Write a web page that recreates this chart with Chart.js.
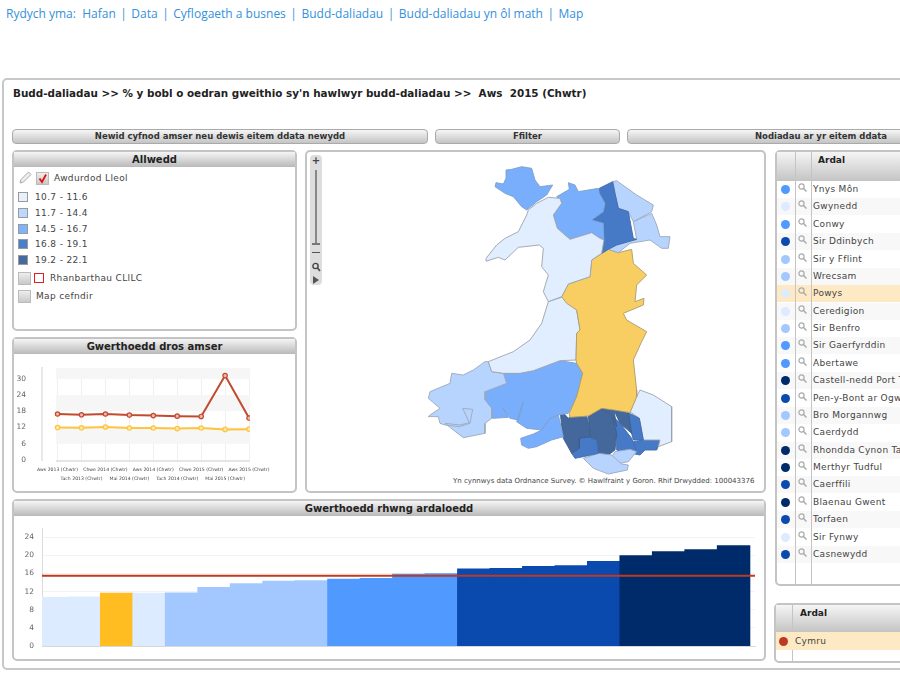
<!DOCTYPE html>
<html lang="cy">
<head>
<meta charset="utf-8">
<title>Map</title>
<script src="https://cdn.jsdelivr.net/npm/chart.js@4/dist/chart.umd.js"></script>
<style>
  html, body { margin: 0; padding: 0; background: #fff; }
  body { position: relative; width: 900px; height: 675px; overflow: hidden; font-family: "DejaVu Sans", sans-serif; font-size: 9px; color: #444; }
  .abs, canvas { position: absolute; }
  #crumbs { left: 6px; top: 5px; font: 12px "Open Sans", sans-serif; color: #3391dc; white-space: pre; }
  #crumbs span { margin: 0 4.5px; }
  #outer { left: 2px; top: 78px; width: 1000px; height: 588px; border: 2px solid #c8c8c8; border-radius: 5px; }
  #title { left: 13px; top: 87px; font-weight: bold; font-size: 10.4px; color: #222; white-space: pre; }
  .btn { height: 13px; line-height: 13px; top: 129px; text-align: center; font-weight: bold; font-size: 8.5px; color: #333; border: 1px solid #aaa; border-radius: 4px; background: linear-gradient(#f6f6f6, #c4c4c4); }
  .panel { border: 2px solid #c4c4c4; border-radius: 5px; background: #fff; box-sizing: border-box; }
  .head { left: 0; right: 0; top: 0; height: 15px; line-height: 15px; text-align: center; font-weight: bold; font-size: 10px; color: #222; background: linear-gradient(#f5f5f5, #b9b9b9); }
  .swatch { width: 8px; height: 8px; border: 1px solid #9a9a9a; }
  .tick { width: 11px; height: 11px; border: 1px solid #bbb; background: linear-gradient(#eee, #c8c8c8); }
  .row { left: 777px; width: 125px; height: 17px; white-space: nowrap; overflow: visible; }
  .dot { width: 9px; height: 9px; border-radius: 50%; }
  .name { left: 813px; white-space: nowrap; letter-spacing: 0.3px; }
  .wide { letter-spacing: 0.35px; white-space: nowrap; }
  .vline { width: 1px; background: #c4c4c4; }
</style>
</head>
<body>
<div class="abs" id="crumbs">Rydych yma:  Hafan<span>|</span>Data<span>|</span>Cyflogaeth a busnes<span>|</span>Budd-daliadau<span>|</span>Budd-daliadau yn ôl math<span>|</span>Map</div>
<div class="abs" id="outer"></div>
<div class="abs" id="title">Budd-daliadau &gt;&gt; % y bobl o oedran gweithio sy'n hawlwyr budd-daliadau &gt;&gt;  Aws  2015 (Chwtr)</div>

<div class="abs btn" style="left:12px;width:414px">Newid cyfnod amser neu dewis eitem ddata newydd</div>
<div class="abs btn" style="left:435px;width:183px">Ffilter</div>
<div class="abs btn" style="left:627px;width:386px">Nodiadau ar yr eitem ddata</div>

<div class="abs panel" style="left:12px;top:150px;width:285px;height:181px"><div class="abs head">Allwedd</div></div>
<div class="abs panel" style="left:12px;top:337px;width:285px;height:156px"><div class="abs head">Gwerthoedd dros amser</div></div>
<div class="abs panel" style="left:305px;top:150px;width:461px;height:343px"></div>
<div class="abs panel" style="left:12px;top:499px;width:754px;height:162px"><div class="abs head">Gwerthoedd rhwng ardaloedd</div></div>
<div class="abs panel" style="left:775px;top:150px;width:200px;height:436px"><div class="abs head" style="height:29px;background:linear-gradient(#f5f5f5,#c4c4c4)"></div></div>
<div class="abs panel" style="left:774px;top:603px;width:200px;height:60px"><div class="abs head" style="height:27px;background:linear-gradient(#f5f5f5,#c4c4c4)"></div></div>

<!-- map zoom control -->
<div class="abs" style="left:310px;top:155px;width:12px;height:130px;background:#ddd;border-radius:4px"></div>
<div class="abs" style="left:315px;top:170px;width:2px;height:74px;background:#888"></div>
<div class="abs" style="left:312px;top:243px;width:8px;height:2px;background:#777"></div>
<div class="abs" style="left:310px;top:155px;width:12px;text-align:center;font-weight:bold;font-size:10px;line-height:11px;color:#444">+</div>
<div class="abs" style="left:312px;top:252px;width:8px;height:1px;background:#555"></div>
<svg class="abs" style="left:311px;top:262px" width="10" height="22" viewBox="0 0 10 22"><circle cx="4.5" cy="4" r="2.6" fill="none" stroke="#444" stroke-width="1.4"/><path d="M6.5 6L9 9" stroke="#444" stroke-width="1.6"/><path d="M2 14L8 18L2 22Z" fill="#555"/></svg>

<div class="abs" style="left:453px;top:477px;font-size:7px;color:#444;white-space:nowrap">Yn cynnwys data Ordnance Survey. © Hawlfraint y Goron. Rhif Drwydded: 100043376</div>

<canvas id="timeChart" style="left:12px;top:352px" width="284" height="140"></canvas>
<canvas id="mapChart" style="left:420px;top:150px" width="270" height="340"></canvas>
<canvas id="areaChart" style="left:12px;top:516px" width="753" height="144"></canvas>

<div id="legendBox"></div>
<div id="tableBox"></div>

<script>
// legend classes
const legendLabels = ["10.7 - 11.6", "11.7 - 14.4", "14.5 - 16.7", "16.8 - 19.1", "19.2 - 22.1"];
const classMax = [11.6, 14.4, 16.7, 19.1, 22.1];
const legendColours = ["#e6f1fc", "#bcd8ff", "#80b4fa", "#4a7fc9", "#476a9e"];
const barColours = ["#dcebff", "#a3c8ff", "#4f99ff", "#0a4aae", "#002b6b"];
const mapColours = ["#e0eeff", "#b7d4ff", "#78aefc", "#4679c6", "#44689c"];
const mapEdges = ["#9ca3ad", "#9ca8ba", "#7f9fcc", "#3f6cae", "#3d5e8e"];
const powysBar = "#ffbd21";
const powysMap = "#f8ce62";
const powysEdge = "#a89c72";
const walesRed = "#bd3a20";

// local authorities, table order
const areaNames = ["Ynys Môn", "Gwynedd", "Conwy", "Sir Ddinbych", "Sir y Fflint", "Wrecsam", "Powys", "Ceredigion", "Sir Benfro", "Sir Gaerfyrddin", "Abertawe", "Castell-nedd Port Talbot", "Pen-y-Bont ar Ogwr", "Bro Morgannwg", "Caerdydd", "Rhondda Cynon Taf", "Merthyr Tudful", "Caerffili", "Blaenau Gwent", "Torfaen", "Sir Fynwy", "Casnewydd"];
const areaValues = [14.7, 10.7, 14.9, 17.5, 14.3, 14.4, 11.6, 11.6, 13.7, 15.8, 15.9, 21.2, 17.0, 11.7, 12.9, 19.9, 20.8, 17.1, 22.1, 17.7, 10.8, 18.6];

// over time
const timeLabels = ["Aws 2013 (Chwtr)", "Tach 2013 (Chwtr)", "Chwe 2014 (Chwtr)", "Mai 2014 (Chwtr)", "Aws 2014 (Chwtr)", "Tach 2014 (Chwtr)", "Chwe 2015 (Chwtr)", "Mai 2015 (Chwtr)", "Aws 2015 (Chwtr)"];
const cymruTime = [17.0, 16.7, 17.0, 16.6, 16.4, 16.2, 16.1, 31.2, 15.5];
const powysTime = [12.0, 11.9, 12.2, 11.8, 11.8, 11.6, 11.8, 11.3, 11.4];
const timeBands = [[6, 12], [18, 24], [30, 34]];

// Wales average on the bar chart
const cymruValue = 15.5;

// map outlines, map units
const shapeYnysMon = [[258,60],[275,58],[305,50],[335,55],[345,90],[360,110],[398,105],[380,135],[350,155],[320,180],[305,170],[280,140],[255,130],[225,110],[228,98],[250,102],[258,85]];
const shapeGwynedd = [[385,142],[420,145],[425,160],[400,195],[412,235],[450,268],[515,248],[540,265],[552,270],[545,310],[515,330],[510,380],[445,402],[425,440],[385,455],[370,425],[385,375],[365,350],[370,295],[358,285],[295,292],[255,330],[235,322],[200,333],[198,325],[230,285],[255,265],[295,245],[320,195],[325,180],[350,160]];
const shapeConwy = [[410,140],[448,118],[445,98],[465,105],[475,125],[535,115],[538,130],[555,160],[550,185],[515,210],[550,220],[552,270],[540,265],[515,248],[450,268],[412,235],[400,195],[425,160]];
const shapeDdinbych = [[538,115],[578,95],[585,130],[595,175],[625,185],[640,265],[650,268],[590,285],[565,298],[545,310],[552,270],[550,220],[515,210],[550,185],[555,160],[538,130]];
const shapeFflint = [[578,95],[590,92],[650,135],[700,165],[695,185],[640,215],[625,185],[595,175],[585,130]];
const shapeWrecsam = [[640,215],[695,190],[710,225],[720,260],[750,260],[745,295],[725,295],[690,270],[630,280],[595,308],[565,298],[590,285],[650,268]];
const shapePowys = [[565,298],[595,308],[635,298],[640,340],[680,375],[650,405],[645,455],[672,445],[670,465],[610,490],[620,510],[680,545],[665,575],[640,630],[650,720],[650,740],[630,788],[582,780],[545,775],[505,798],[450,802],[448,790],[470,740],[488,670],[470,640],[468,630],[470,550],[480,540],[470,480],[440,460],[425,440],[445,402],[510,380],[515,330]];
const shapeCeredigion = [[430,440],[445,455],[470,480],[480,540],[470,550],[468,630],[420,632],[340,662],[300,670],[250,670],[215,665],[205,635],[280,605],[330,570],[365,520],[385,455]];
const shapeBenfro = [[205,635],[215,665],[250,670],[260,700],[195,725],[195,750],[215,775],[215,805],[195,820],[195,850],[130,863],[100,840],[75,820],[120,825],[148,818],[128,775],[158,778],[150,820],[118,830],[75,825],[60,820],[55,800],[25,800],[30,795],[60,775],[25,745],[30,725],[90,700],[95,670],[130,675],[160,660],[195,635]];
const shapeGaerfyrddin = [[250,670],[300,670],[340,662],[420,632],[470,640],[488,670],[470,740],[445,790],[415,795],[390,805],[365,840],[320,835],[290,815],[310,755],[295,810],[270,805],[250,775],[265,802],[218,805],[215,775],[195,750],[195,725],[260,700]];
const shapeAbertawe = [[390,805],[415,795],[430,860],[395,870],[350,890],[325,895],[305,885],[302,865],[340,852],[365,840]];
const shapeCastellNedd = [[420,778],[445,805],[450,800],[500,798],[508,830],[510,860],[478,865],[478,895],[455,910],[430,865],[425,830]];
const shapePenyBont = [[478,865],[495,858],[530,870],[535,910],[490,920],[465,925],[455,910],[478,895]];
const shapeRhondda = [[505,798],[545,775],[575,795],[590,850],[585,900],[565,915],[535,910],[530,870],[495,858],[510,860],[508,830]];
const shapeMerthyr = [[545,775],[582,780],[590,830],[575,795]];
const shapeBlaenau = [[582,780],[625,788],[635,850],[600,820]];
const shapeCaerffili = [[575,795],[600,820],[635,865],[650,905],[630,915],[590,900],[590,850]];
const shapeTorfaen = [[625,788],[658,805],[670,870],[640,870],[632,840]];
const shapeCasnewydd = [[640,875],[670,870],[710,860],[720,875],[710,900],[675,900],[660,915],[635,910]];
const shapeCaerdydd = [[585,905],[630,898],[650,905],[625,935],[600,940],[575,920]];
const shapeBro = [[490,925],[535,910],[575,915],[605,942],[625,945],[622,960],[565,972],[520,955]];
const shapeFynwy = [[660,720],[700,735],[755,770],[755,875],[715,890],[720,870],[670,870],[658,805],[630,785],[650,740]];

const areaShapes = {
  "Ynys Môn": shapeYnysMon, "Gwynedd": shapeGwynedd, "Conwy": shapeConwy, "Sir Ddinbych": shapeDdinbych,
  "Sir y Fflint": shapeFflint, "Wrecsam": shapeWrecsam, "Powys": shapePowys, "Ceredigion": shapeCeredigion,
  "Sir Benfro": shapeBenfro, "Sir Gaerfyrddin": shapeGaerfyrddin, "Abertawe": shapeAbertawe,
  "Castell-nedd Port Talbot": shapeCastellNedd, "Pen-y-Bont ar Ogwr": shapePenyBont, "Bro Morgannwg": shapeBro,
  "Caerdydd": shapeCaerdydd, "Rhondda Cynon Taf": shapeRhondda, "Merthyr Tudful": shapeMerthyr,
  "Caerffili": shapeCaerffili, "Blaenau Gwent": shapeBlaenau, "Torfaen": shapeTorfaen, "Sir Fynwy": shapeFynwy,
  "Casnewydd": shapeCasnewydd
};

function classOf(v) {
  return classMax.findIndex((m) => v <= m);
}

const magnifier = '<svg width="9" height="9" viewBox="0 0 9 9"><circle cx="3.5" cy="3.5" r="2.6" fill="none" stroke="#aaa" stroke-width="1.2"/><path d="M5.5 5.5L8.5 8.5" stroke="#aaa" stroke-width="1.5"/></svg>';
const redTick = '<svg width="11" height="11" viewBox="0 0 11 11"><path d="M2.5 5.5L5 9L9 1.5" fill="none" stroke="#e01010" stroke-width="1.8"/></svg>';
const pencil = '<svg width="13" height="13" viewBox="0 0 13 13"><path d="M1 12L2 8.5L9.5 1L12 3.5L4.5 11Z" fill="#eee" stroke="#aaa"/></svg>';

// legend
let legendHtml = `<div class="abs" style="left:19px;top:171px">${pencil}</div>
  <div class="abs tick" style="left:36px;top:172px">${redTick}</div>
  <div class="abs wide" style="left:54px;top:173px">Awdurdod Lleol</div>`;
const legendRows = [197, 213, 229, 244, 260];
legendLabels.forEach((t, i) => {
  legendHtml += `<div class="abs swatch" style="left:18px;top:${legendRows[i] - 5}px;background:${legendColours[i]}"></div>
    <div class="abs wide" style="left:35px;top:${legendRows[i] - 5}px">${t}</div>`;
});
legendHtml += `<div class="abs tick" style="left:18px;top:272px"></div>
  <div class="abs" style="left:34px;top:273px;width:8px;height:8px;border:1px solid #e02020"></div>
  <div class="abs wide" style="left:50px;top:273px">Rhanbarthau CLlLC</div>
  <div class="abs tick" style="left:18px;top:290px"></div>
  <div class="abs wide" style="left:36px;top:291px">Map cefndir</div>`;
document.getElementById("legendBox").innerHTML = legendHtml;

// table
let tableHtml = "";
areaNames.forEach((name, i) => {
  const top = 181 + i * 17.38;
  const bg = name === "Powys" ? "#fdeac4" : (i % 2 ? "#f8f8f8" : "#fff");
  tableHtml += `<div class="abs row" style="top:${top}px;background:${bg}"></div>
    <div class="abs dot" style="left:781px;top:${top + 4}px;background:${barColours[classOf(areaValues[i])]}"></div>
    <div class="abs" style="left:798px;top:${top + 2}px">${magnifier}</div>
    <div class="abs name" style="top:${top + 3}px">${name}</div>`;
});
tableHtml += `<div class="abs vline" style="left:795px;top:152px;height:432px"></div>
  <div class="abs vline" style="left:811px;top:152px;height:432px"></div>
  <div class="abs" style="left:818px;top:155px;font-weight:bold;color:#222">Ardal</div>
  <div class="abs vline" style="left:792px;top:605px;height:56px"></div>
  <div class="abs" style="left:800px;top:608px;font-weight:bold;color:#222">Ardal</div>
  <div class="abs" style="left:776px;top:632px;width:125px;height:18px;background:#fdeac4"></div>
  <div class="abs dot" style="left:779px;top:637px;background:${walesRed}"></div>
  <div class="abs name" style="left:795px;top:636px">Cymru</div>`;
document.getElementById("tableBox").innerHTML = tableHtml;

// grey bands and base line behind the time chart
const bandPlugin = {
  id: "bands",
  beforeDatasetsDraw(chart) {
    const { ctx, chartArea, scales } = chart;
    const left = scales.x.getPixelForValue(-0.07);
    ctx.save();
    ctx.fillStyle = "#f6f6f6";
    timeBands.forEach((b) => {
      const top = scales.y.getPixelForValue(b[1]);
      ctx.fillRect(left, top, chartArea.right - left, scales.y.getPixelForValue(b[0]) - top);
    });
    ctx.strokeStyle = "#dcdcdc";
    ctx.lineWidth = 1.5;
    ctx.beginPath();
    ctx.moveTo(left, chartArea.bottom + 1);
    ctx.lineTo(chartArea.right, chartArea.bottom + 1);
    ctx.stroke();
    ctx.restore();
  },
};

const smallTicks = { color: "#666", padding: 8, font: { family: "DejaVu Sans", size: 7.5 } };

new Chart(document.getElementById("timeChart"), {
  type: "line",
  plugins: [bandPlugin],
  data: {
    datasets: [
      {
        data: cymruTime.map((v, i) => ({ x: i, y: v })),
        borderColor: "#c24a2e", backgroundColor: "#eeb9a8", borderWidth: 2,
        pointRadius: 2.2, pointBorderWidth: 1.2, tension: 0,
      },
      {
        data: powysTime.map((v, i) => ({ x: i, y: v })),
        borderColor: "#ffc43d", backgroundColor: "#ffe9b0", borderWidth: 2,
        pointRadius: 2.2, pointBorderWidth: 1.2, tension: 0,
      },
    ],
  },
  options: {
    responsive: false,
    animation: false,
    layout: { padding: { right: 46, top: 16, bottom: 4 } },
    plugins: { legend: { display: false }, tooltip: { enabled: false } },
    scales: {
      x: {
        type: "linear",
        min: -0.65,
        max: 8.04,
        afterBuildTicks: (s) => { s.ticks = timeLabels.map((t, i) => ({ value: i })); },
        afterFit: (s) => { s.height = 28; },
        grid: { color: "#f0f0f0", drawTicks: false },
        border: { display: false },
        ticks: {
          autoSkip: false, maxRotation: 0, padding: 5,
          color: "#444", font: { family: "DejaVu Sans", size: 4.6, lineHeight: 2 },
          callback: (v) => (v % 2 ? ["", timeLabels[v]] : timeLabels[v]),
        },
      },
      y: {
        min: 0,
        max: 34,
        afterBuildTicks: (s) => { s.ticks = [0, 6, 12, 18, 24, 30].map((v) => ({ value: v })); },
        afterFit: (s) => { s.width = 30; },
        grid: { display: false },
        border: { color: "#e8e8e8", width: 2 },
        ticks: smallTicks,
      },
    },
  },
});

new Chart(document.getElementById("mapChart"), {
  type: "scatter",
  data: {
    datasets: areaNames.map((name, i) => ({
      data: areaShapes[name].concat([areaShapes[name][0]]),
      showLine: true,
      fill: "shape",
      tension: 0,
      pointRadius: 0,
      borderWidth: 0.9,
      borderColor: name === "Powys" ? powysEdge : mapEdges[classOf(areaValues[i])],
      backgroundColor: name === "Powys" ? powysMap : mapColours[classOf(areaValues[i])],
    })),
  },
  options: {
    responsive: false,
    animation: false,
    plugins: { legend: { display: false }, tooltip: { enabled: false } },
    scales: {
      x: { display: false, min: 0, max: 810 },
      y: { display: false, min: 0, max: 1020, reverse: true },
    },
  },
});

// bars sorted low to high
const sortedAreas = areaNames.map((name, i) => ({ name, value: areaValues[i] })).sort((a, b) => a.value - b.value);

new Chart(document.getElementById("areaChart"), {
  type: "bar",
  data: {
    datasets: [
      {
        type: "line",
        order: 0,
        data: [{ x: -0.3, y: cymruValue }, { x: 21.66, y: cymruValue }],
        borderColor: walesRed,
        borderWidth: 2,
        pointRadius: 0,
      },
      {
        order: 1,
        data: sortedAreas.map((a, i) => ({ x: i, y: a.value })),
        backgroundColor: sortedAreas.map((a) => (a.name === "Powys" ? powysBar : barColours[classOf(a.value)])),
        barPercentage: 1,
        categoryPercentage: 1,
        inflateAmount: 0.5,
      },
    ],
  },
  options: {
    responsive: false,
    animation: false,
    layout: { padding: { right: 10, top: 11, bottom: 14 } },
    plugins: { legend: { display: false }, tooltip: { enabled: false } },
    scales: {
      x: {
        type: "linear",
        offset: false,
        min: -0.3,
        max: 21.66,
        afterBuildTicks: (s) => { s.ticks = sortedAreas.map((a, i) => ({ value: i })); },
        afterFit: (s) => { s.height = 0; },
        grid: { display: false, offset: false },
        border: { color: "#d8d8d8" },
        ticks: { display: false },
      },
      y: {
        min: 0,
        max: 25.9,
        afterBuildTicks: (s) => { s.ticks = [0, 4, 8, 12, 16, 20, 24].map((v) => ({ value: v })); },
        afterFit: (s) => { s.width = 30; },
        grid: { color: "#f3f3f3", drawTicks: false },
        border: { color: "#dcdcdc" },
        ticks: smallTicks,
      },
    },
  },
});
</script>
</body>
</html>
